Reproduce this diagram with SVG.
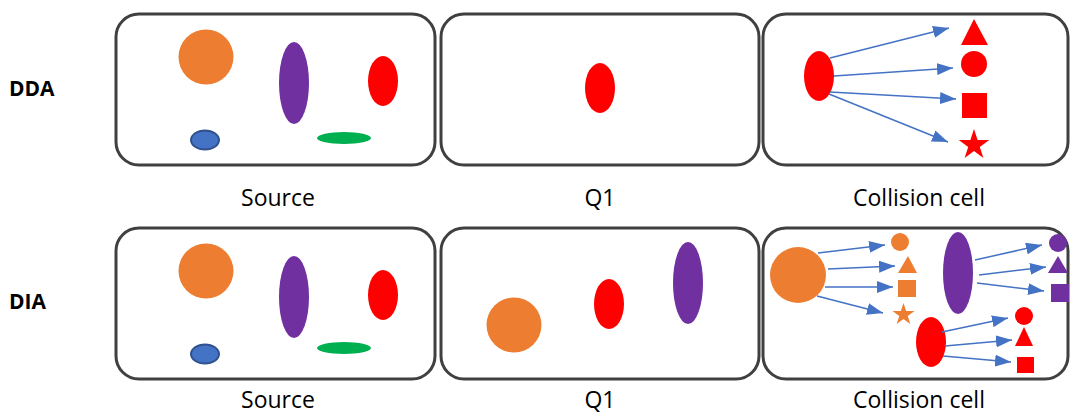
<svg xmlns="http://www.w3.org/2000/svg" xmlns:xlink="http://www.w3.org/1999/xlink" width="1070" height="414" viewBox="0 0 1070 414">
  <style>
    .panel { fill: #ffffff; stroke: #404040; stroke-width: 3; }
    .lbl { font-family: "Open Sans", "DejaVu Sans", sans-serif; font-size: 23px; fill: #000000; text-anchor: middle; }
    .row { font-family: "Open Sans", "DejaVu Sans", sans-serif; font-size: 21px; font-weight: bold; fill: #000000; }
    .arr { stroke: #4472C4; stroke-width: 1.5; fill: none; marker-end: url(#head); }
    .o { fill: #ED7D31; }
    .p { fill: #7030A0; }
    .r { fill: #FF0000; }
    .g { fill: #00B050; }
    .b { fill: #4472C4; stroke: #2F528F; stroke-width: 2; }
  </style>
  <defs>
    <marker id="head" markerUnits="userSpaceOnUse" markerWidth="16" markerHeight="12" refX="16" refY="6" orient="auto">
      <path d="M0,0 L16,6 L0,12 z" fill="#4472C4"/>
    </marker>
    <!-- unit five-point star, scaled on use -->
    <path id="star" d="M0,-1 L0.2245,-0.309 L0.951,-0.309 L0.363,0.118 L0.588,0.809 L0,0.382 L-0.588,0.809 L-0.363,0.118 L-0.951,-0.309 L-0.2245,-0.309 Z"/>
  </defs>

  <!-- row labels -->
  <text class="row" x="9" y="96">DDA</text>
  <text class="row" x="9" y="309">DIA</text>

  <!-- DDA: source -->
  <g id="dda-source">
    <rect class="panel" x="116" y="14" width="319" height="151" rx="23"/>
    <circle class="o" cx="206" cy="57" r="27.5"/>
    <ellipse class="p" cx="294" cy="83" rx="15" ry="41"/>
    <ellipse class="r" cx="383" cy="81" rx="15" ry="25"/>
    <ellipse class="b" cx="205" cy="140" rx="14" ry="9.5"/>
    <ellipse class="g" cx="344" cy="138" rx="27" ry="6"/>
  </g>

  <!-- DDA: Q1 -->
  <g id="dda-q1">
    <rect class="panel" x="441" y="14" width="318" height="151" rx="23"/>
    <ellipse class="r" cx="600" cy="88" rx="15" ry="25"/>
  </g>

  <!-- DDA: collision cell -->
  <g id="dda-cell">
    <rect class="panel" x="763" y="14" width="305" height="151" rx="23"/>
    <ellipse class="r" cx="819" cy="76" rx="15" ry="25"/>
    <polygon class="r" points="974,19 988,45 961,45"/>
    <circle class="r" cx="974" cy="64" r="13"/>
    <rect class="r" x="962" y="93" width="25" height="25"/>
    <use xlink:href="#star" class="r" transform="translate(974,145) scale(16)"/>
  </g>

  <!-- DIA: source -->
  <g id="dia-source">
    <rect class="panel" x="116" y="228" width="319" height="151" rx="23"/>
    <circle class="o" cx="206" cy="271" r="27.5"/>
    <ellipse class="p" cx="294" cy="297" rx="15" ry="41"/>
    <ellipse class="r" cx="383" cy="295" rx="15" ry="25"/>
    <ellipse class="b" cx="205" cy="354" rx="14" ry="9.5"/>
    <ellipse class="g" cx="344" cy="348" rx="27" ry="6"/>
  </g>

  <!-- DIA: Q1 -->
  <g id="dia-q1">
    <rect class="panel" x="441" y="228" width="318" height="151" rx="23"/>
    <circle class="o" cx="514" cy="325" r="27.5"/>
    <ellipse class="r" cx="609" cy="304" rx="15" ry="25"/>
    <ellipse class="p" cx="688" cy="283" rx="15" ry="41"/>
  </g>

  <!-- DIA: collision cell -->
  <g id="dia-cell">
    <rect class="panel" x="763" y="228" width="305" height="151" rx="23"/>
    <circle class="o" cx="798" cy="275" r="28"/>
    <circle class="o" cx="900" cy="242" r="9"/>
    <polygon class="o" points="908,256 917,273 898,273"/>
    <rect class="o" x="898" y="280" width="18" height="17"/>
    <use xlink:href="#star" class="o" transform="translate(903.5,314.6) scale(11.6)"/>

    <ellipse class="p" cx="958" cy="273" rx="15" ry="41"/>
    <circle class="p" cx="1058" cy="243" r="9"/>
    <polygon class="p" points="1058,256 1068,273 1048,273"/>
    <rect class="p" x="1051" y="284" width="18" height="18"/>

    <ellipse class="r" cx="931" cy="342" rx="15" ry="25"/>
    <circle class="r" cx="1024" cy="316" r="9"/>
    <polygon class="r" points="1024,327 1033,346 1015,346"/>
    <rect class="r" x="1017" y="357" width="17" height="16"/>
  </g>

  <!-- fragmentation arrows -->
  <g id="connectors">
    <line class="arr" x1="830" y1="58" x2="949" y2="28"/>
    <line class="arr" x1="834" y1="76" x2="953" y2="68"/>
    <line class="arr" x1="830" y1="92" x2="956" y2="99"/>
    <line class="arr" x1="829" y1="94" x2="948" y2="142"/>

    <line class="arr" x1="818" y1="253" x2="885" y2="245"/>
    <line class="arr" x1="828" y1="269" x2="895" y2="266"/>
    <line class="arr" x1="825" y1="287" x2="893" y2="287"/>
    <line class="arr" x1="817" y1="296" x2="883" y2="313"/>

    <line class="arr" x1="975" y1="260" x2="1042" y2="245"/>
    <line class="arr" x1="979" y1="275" x2="1046" y2="267"/>
    <line class="arr" x1="977" y1="283" x2="1044" y2="291"/>

    <line class="arr" x1="942" y1="332" x2="1008" y2="318"/>
    <line class="arr" x1="945" y1="346" x2="1012" y2="340"/>
    <line class="arr" x1="943" y1="356" x2="1011" y2="362"/>
  </g>

  <!-- panel captions -->
  <text class="lbl" x="278" y="206">Source</text>
  <text class="lbl" x="600" y="206">Q1</text>
  <text class="lbl" x="919" y="206">Collision cell</text>
  <text class="lbl" x="278" y="408">Source</text>
  <text class="lbl" x="600" y="408">Q1</text>
  <text class="lbl" x="919" y="408">Collision cell</text>
</svg>
